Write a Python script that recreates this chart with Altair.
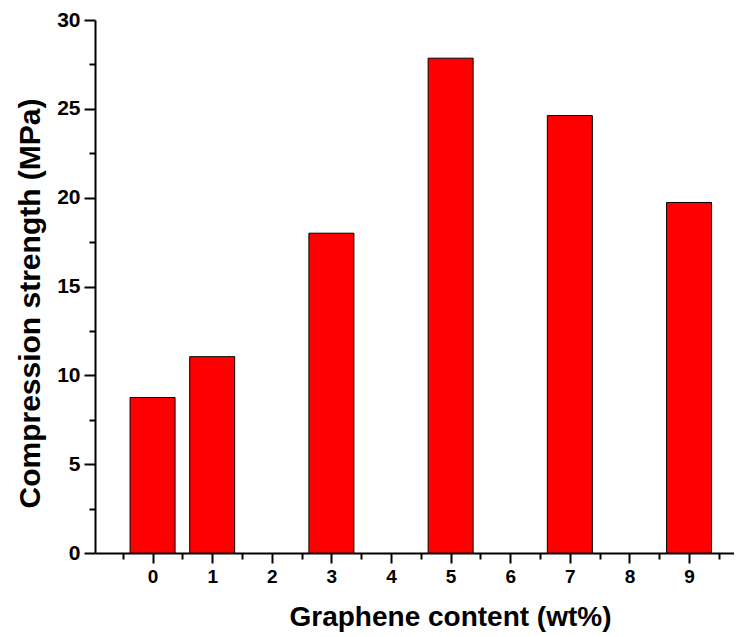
import altair as alt
import pandas as pd

content = [0, 1, 3, 5, 7, 9]
strength = [8.75, 11.05, 18.0, 27.85, 24.62, 19.73]

x_ticks = [-0.5, 0, 0.5, 1, 1.5, 2, 2.5, 3, 3.5, 4, 4.5, 5, 5.5, 6, 6.5, 7, 7.5, 8, 8.5, 9, 9.5]
y_ticks = [0, 2.5, 5, 7.5, 10, 12.5, 15, 17.5, 20, 22.5, 25, 27.5, 30]

df = pd.DataFrame({"content": content, "strength": strength})

major = "abs(datum.value % 1) < 1e-9"
major_y = "abs(datum.value % 5) < 1e-9"

x_axis = alt.Axis(
    values=x_ticks,
    labelExpr=f"{major} ? format(datum.value, 'd') : ''",
    tickSize={"condition": {"test": major, "value": 10}, "value": 6},
    tickWidth=2,
    tickColor="black",
    domainColor="black",
    domainWidth=2,
    labelFont="Liberation Sans",
    labelFontSize=19,
    labelFontWeight="bold",
    labelColor="black",
    labelPadding=4,
    labelFlush=False,
    labelOverlap=False,
    grid=False,
    title="Graphene content (wt%)",
    titleFont="Liberation Sans",
    titleFontSize=28,
    titleFontWeight="bold",
    titleColor="black",
    titleX=355,
    titleY=72,
    titleBaseline="alphabetic",
    titleAlign="center",
)

y_axis = alt.Axis(
    values=y_ticks,
    labelExpr=f"{major_y} ? format(datum.value, 'd') : ''",
    tickSize={"condition": {"test": major_y, "value": 11}, "value": 6},
    tickWidth=2,
    tickColor="black",
    domainColor="black",
    domainWidth=2,
    labelFont="Liberation Sans",
    labelFontSize=21,
    labelFontWeight="bold",
    labelColor="black",
    labelPadding=4,
    labelFlush=False,
    labelOverlap=False,
    grid=False,
    title="Compression strength (MPa)",
    titleFont="Liberation Sans",
    titleFontSize=30,
    titleFontWeight="bold",
    titleColor="black",
    titleX=-56,
    titleY=283,
    titleAngle=270,
    titleBaseline="alphabetic",
    titleAlign="center",
)

chart = (
    alt.Chart(df)
    .mark_bar(size=45, color="#FF0000", stroke="black", strokeWidth=1)
    .encode(
        x=alt.X("content:Q", scale=alt.Scale(domain=[-0.882, 9.67], nice=False, zero=False), axis=x_axis),
        y=alt.Y("strength:Q", scale=alt.Scale(domain=[0, 30], nice=False), axis=y_axis),
    )
    .properties(
        width=639,
        height=533,
        padding={"left": 87, "top": 12, "right": 0, "bottom": 85},
        autosize=alt.AutoSizeParams(type="none"),
    )
    .configure_view(stroke=None)
)

chart.save("out.html", embed_options={"renderer": "svg", "actions": False})
